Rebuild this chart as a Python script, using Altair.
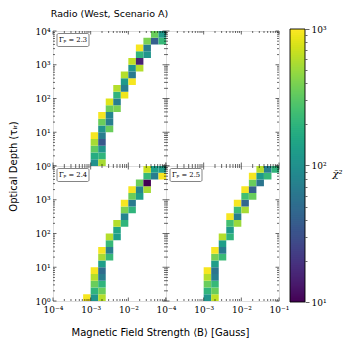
import altair as alt
import pandas as pd
import numpy as np

# ---------------- grid (bin edges, log10) ----------------
x_edges_log = [-4.0, -3.8, -3.6, -3.4, -3.2, -3.0, -2.8, -2.6, -2.4, -2.2,
               -2.0, -1.8, -1.6, -1.4, -1.2, -1.0]
y_edges_log = [0.0, 0.2, 0.4, 0.6, 0.8, 1.0, 1.2, 1.4, 1.6, 1.8, 2.0,
               2.2, 2.4, 2.6, 2.8, 3.0, 3.2, 3.4, 3.6, 3.8, 4.0]

# ---------------- cell values (column index, row index, chi2) ----------------
# Gamma_p = 2.3 (top-left)
p23_col = [5, 6, 5, 6, 5, 6, 5, 6, 5, 6, 6, 7, 6, 7, 6, 7, 7, 8, 7, 8,
           8, 9, 8, 9, 9, 10, 9, 10, 10, 11, 10, 11, 11, 12, 11, 12, 12, 13, 14, 13, 14]
p23_row = [0, 0, 1, 1, 2, 2, 3, 3, 4, 4, 5, 5, 6, 6, 7, 7, 8, 8, 9, 9,
           10, 10, 11, 11, 12, 12, 13, 13, 14, 14, 15, 15, 16, 16, 17, 17, 18, 18, 18, 19, 19]
p23_chi2 = [100, 550, 170, 200, 320, 110, 550, 35, 950, 70, 110, 350, 350, 70, 950, 80, 350, 400, 800, 70,
            200, 900, 600, 70, 120, 950, 600, 65, 110, 600, 650, 15, 200, 110, 950, 70, 400, 40, 220, 350, 120]

# Gamma_p = 2.4 (bottom-left)
p24_col = [4, 5, 6, 5, 6, 5, 6, 5, 6, 5, 6, 6, 6, 7, 6, 7, 7, 7, 8, 8,
           8, 9, 9, 9, 10, 9, 10, 10, 11, 10, 11, 12, 11, 12, 12, 13, 14, 12, 13, 14]
p24_row = [0, 0, 0, 1, 1, 2, 2, 3, 3, 4, 4, 5, 6, 6, 7, 7, 8, 9, 9, 10,
           11, 11, 12, 13, 13, 14, 14, 15, 15, 16, 16, 16, 17, 17, 18, 18, 18, 19, 19, 19]
p24_chi2 = [950, 110, 600, 200, 350, 350, 200, 600, 70, 950, 50, 130, 550, 220, 950, 70, 220, 600, 130, 150,
            600, 200, 80, 400, 200, 950, 65, 350, 130, 950, 80, 550, 350, 10, 220, 70, 950, 700, 130, 130]

# Gamma_p = 2.5 (bottom-right)
p25_col = [5, 6, 5, 6, 5, 6, 5, 6, 5, 6, 6, 6, 7, 6, 7, 7, 7, 8, 8, 8,
           9, 8, 9, 9, 10, 9, 10, 10, 11, 10, 11, 11, 12, 11, 12, 13, 12, 13, 14]
p25_row = [0, 0, 1, 1, 2, 2, 3, 3, 4, 4, 5, 6, 6, 7, 7, 8, 9, 9, 10, 11,
           11, 12, 12, 13, 13, 14, 14, 15, 15, 16, 16, 17, 17, 18, 18, 18, 19, 19, 19]
p25_chi2 = [110, 650, 200, 350, 350, 220, 600, 70, 950, 60, 130, 380, 230, 950, 65, 130, 600, 200, 120, 250,
            500, 950, 70, 230, 550, 950, 45, 250, 350, 950, 40, 350, 60, 950, 120, 220, 600, 70, 200]

# ---------------- ticks / labels ----------------
x_major = [1e-4, 1e-3, 1e-2, 1e-1]
y_major = [1e0, 1e1, 1e2, 1e3, 1e4]
minor_mult = [2, 3, 4, 5, 6, 7, 8, 9]
x_labels = ["10⁻⁴", "10⁻³", "10⁻²", "10⁻¹"]
y_labels = ["10⁰", "10¹", "10²", "10³", "10⁴"]
cb_major = [10, 100, 1000]
cb_labels = ["10¹", "10²", "10³"]

title_text = "Radio (West, Scenario A)"
xtitle = "Magnetic Field Strength ⟨B⟩ [Gauss]"
ytitle = "Optical Depth (τᵢᵣ)"
cbtitle = "χ̄²"

W, H = 113, 135
SERIF = "DejaVu Serif"
SANS = "DejaVu Sans"

xs = alt.Scale(type="log", domain=[1e-4, 1e-1], nice=False)
ys = alt.Scale(type="log", domain=[1, 1e4], nice=False)
cs = alt.Scale(type="log", domain=[10, 1000], scheme="viridis")


def lab_expr(values, labels):
    parts = [f"abs(log(datum.value)/LN10 - ({np.log10(v):.3f})) < 0.01 ? '{l}'"
             for v, l in zip(values, labels)]
    return " : ".join(parts) + " : ''"


def cells_df(cols, rows, vals):
    return pd.DataFrame({
        "b0": [10 ** x_edges_log[c] for c in cols],
        "b1": [10 ** x_edges_log[c + 1] for c in cols],
        "t0": [10 ** y_edges_log[r] for r in rows],
        "t1": [10 ** y_edges_log[r + 1] for r in rows],
        "chi2": vals,
    })


def tick_df(majors):
    vals, maj = [], []
    for m in majors:
        vals.append(m); maj.append(True)
    for m in majors[:-1]:
        for k in minor_mult:
            vals.append(m * k); maj.append(False)
    return pd.DataFrame({"v": vals, "major": maj})


xt = tick_df(x_major)
yt = tick_df(y_major)


def tick_layers(xax, yax):
    layers = []
    for major, L in [(True, 3.5), (False, 2.0)]:
        xd = xt[xt.major == major]
        yd = yt[yt.major == major]
        bx = alt.Chart(xd).mark_rule(color="black", strokeWidth=0.6)
        by = alt.Chart(yd).mark_rule(color="black", strokeWidth=0.6)
        X = alt.X("v:Q", scale=xs, axis=xax)
        Y = alt.Y("v:Q", scale=ys, axis=yax)
        layers.append(bx.encode(x=X, y=alt.value(H), y2=alt.value(H - L)))
        layers.append(bx.encode(x=X, y=alt.value(0), y2=alt.value(L)))
        layers.append(by.encode(y=Y, x=alt.value(0), x2=alt.value(L)))
        layers.append(by.encode(y=Y, x=alt.value(W), x2=alt.value(W - L)))
    return layers


def panel(df, label, xvals=None, yvals=None, xtitle_txt=None, ytitle_txt=None, title=None, extra=None):
    if xvals is None:
        xax = None
    else:
        xl = [x_labels[x_major.index(v)] for v in xvals]
        xax = alt.Axis(values=xvals, labelExpr=lab_expr(xvals, xl), ticks=False, domain=False,
                       grid=False, labelFont=SERIF, labelFontSize=9, labelPadding=4,
                       labelColor="black", labelFlush=False, labelOverlap=False,
                       title=xtitle_txt if xtitle_txt else "",
                       **({"titleX": 107, "titleFont": SANS, "titleFontSize": 10,
                           "titleFontWeight": "normal", "titleColor": "black",
                           "titlePadding": 13} if xtitle_txt else {}))
    if yvals is None:
        yax = None
    else:
        yl = [y_labels[y_major.index(v)] for v in yvals]
        yax = alt.Axis(values=yvals, labelExpr=lab_expr(yvals, yl), ticks=False, domain=False,
                       grid=False, labelFont=SERIF, labelFontSize=9, labelPadding=3,
                       labelColor="black", labelFlush=False, labelOverlap=False,
                       title=ytitle_txt if ytitle_txt else "",
                       **({"titleY": H, "titleFont": SANS, "titleFontSize": 10,
                           "titleFontWeight": "normal", "titleColor": "black",
                           "titlePadding": 16} if ytitle_txt else {}))
    layers = []
    if df is not None:
        layers.append(alt.Chart(df).mark_rect(clip=True).encode(
            x=alt.X("b0:Q", scale=xs, axis=xax),
            x2="b1:Q",
            y=alt.Y("t0:Q", scale=ys, axis=yax),
            y2="t1:Q",
            color=alt.Color("chi2:Q", scale=cs, legend=None),
        ))
    layers += tick_layers(xax, yax)
    if label:
        ldf = pd.DataFrame({"label": [label]})
        layers.append(alt.Chart(ldf).mark_rect(fill="white", stroke="#333333", strokeWidth=0.6,
                                               cornerRadius=1.5).encode(
            x=alt.value(4), x2=alt.value(36), y=alt.value(2.5), y2=alt.value(15.5)))
        layers.append(alt.Chart(ldf).mark_text(font=SERIF, fontSize=6.8, color="black",
                                               align="center", baseline="middle").encode(
            x=alt.value(20), y=alt.value(9.2), text="label:N"))
    if extra:
        layers += extra
    ch = alt.layer(*layers).properties(width=W, height=H)
    if extra:
        ch = ch.resolve_scale(y="independent").resolve_axis(y="independent")
    if title:
        ch = ch.properties(title=alt.TitleParams(title, font=SANS, fontSize=9.5, fontWeight="normal",
                                                 color="black", anchor="middle", offset=9))
    return ch


# ---------------- colorbar (drawn beside the top-right panel) ----------------
CBX0, CBX1 = 124, 139
CBTOP, CBBOT = -2, 271
cb_edges = np.logspace(1, 3, 136)
cbdf = pd.DataFrame({"lo": cb_edges[:-1],
                     "hi": list(cb_edges[2:]) + [cb_edges[-1]],
                     "mid": np.sqrt(cb_edges[:-1] * cb_edges[1:])})
cb_ticks = [10 * k for k in [1, 2, 3, 4, 5, 6, 7, 8, 9]] + [100 * k for k in [1, 2, 3, 4, 5, 6, 7, 8, 9]] + [1000]
cb_test = " || ".join([f"datum.value == {v}" for v in cb_major])
cb_scale = alt.Scale(type="log", domain=[10, 1000], nice=False, range=[CBBOT, CBTOP])
colorbar = alt.Chart(cbdf).mark_rect().encode(
    x=alt.value(CBX0), x2=alt.value(CBX1),
    y=alt.Y("lo:Q", scale=cb_scale,
            axis=alt.Axis(orient="right", offset=CBX1 - W, values=cb_ticks,
                          labelExpr=lab_expr(cb_major, cb_labels),
                          tickSize={"condition": {"test": cb_test, "value": 4}, "value": 2},
                          tickColor="black", tickWidth=0.6, domain=False, grid=False,
                          labelFont=SERIF, labelFontSize=9, labelPadding=2, labelColor="black",
                          labelFlush=False, labelOverlap=False,
                          title=cbtitle, titleAngle=0, titleFont=SERIF, titleFontStyle="italic",
                          titleFontSize=10, titleFontWeight="normal", titleColor="black",
                          titleX=27, titleY=142, titleAlign="left", titleBaseline="middle")),
    y2="hi:Q",
    color=alt.Color("mid:Q", scale=cs, legend=None),
)
cbframe = alt.Chart(pd.DataFrame({"f": [0]})).mark_rect(fill=None, stroke="black", strokeWidth=0.9).encode(
    x=alt.value(CBX0), x2=alt.value(CBX1), y=alt.value(CBTOP), y2=alt.value(CBBOT))

tl = panel(cells_df(p23_col, p23_row, p23_chi2), "Γₚ = 2.3",
           xvals=None, yvals=y_major, ytitle_txt=ytitle, title=title_text)
tr = panel(None, None, extra=[colorbar, cbframe])
bl = panel(cells_df(p24_col, p24_row, p24_chi2), "Γₚ = 2.4",
           xvals=x_major[:3], yvals=y_major[:4], xtitle_txt=xtitle)
br = panel(cells_df(p25_col, p25_row, p25_chi2), "Γₚ = 2.5",
           xvals=x_major, yvals=None)

chart = alt.concat(tl, tr, bl, br, columns=2, spacing=0, bounds="flush").properties(
    padding={"left": 0, "top": 0, "right": 2, "bottom": 2}
).configure_view(stroke="black", strokeWidth=0.9).configure(background="white")

chart.save("out.html", embed_options={"renderer": "svg", "actions": False})
